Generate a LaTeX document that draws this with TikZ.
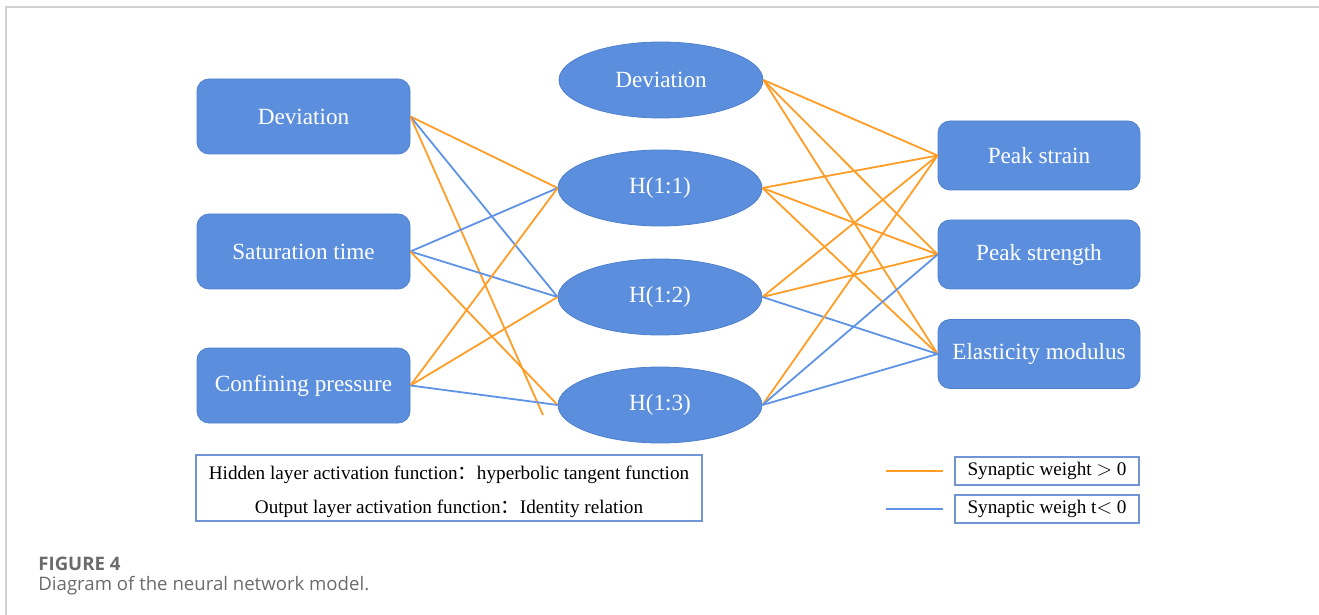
\documentclass[tikz,border=0pt]{standalone}
\usepackage{fontspec}
\setmainfont{Liberation Serif}
\newfontfamily\capfont{Open Sans}
\newfontfamily\cjk{Noto Sans CJK SC}
\usetikzlibrary{shapes.geometric}

\definecolor{boxblue}{HTML}{5B8FDE}
\definecolor{boxedge}{HTML}{4F80CC}
\definecolor{poswt}{HTML}{FF9D26}
\definecolor{negwt}{HTML}{5F93E6}
\definecolor{keyedge}{HTML}{7095D2}
\definecolor{capgray}{HTML}{6B6B6B}

\begin{document}
\begin{tikzpicture}[x=0.5pt, y=-0.5pt,
    unitbox/.style={draw=boxedge, fill=boxblue, rounded corners=6pt, text=white,
        minimum width=106.5pt, minimum height=37.5pt, inner sep=0pt, font=\fontsize{11.6}{13}\selectfont},
    outbox/.style={unitbox, minimum width=101pt, minimum height=34.5pt},
    hidden/.style={draw=boxedge, fill=boxblue, ellipse, text=white,
        minimum width=102pt, minimum height=38pt, inner sep=0pt, font=\fontsize{11.6}{13}\selectfont},
    poswire/.style={draw=poswt, line width=0.9pt},
    negwire/.style={draw=negwt, line width=0.9pt},
    keybox/.style={draw=keyedge, line width=0.6pt, inner sep=0pt, font=\fontsize{9.6}{11}\selectfont},
    notetext/.style={inner sep=0pt, font=\fontsize{9.6}{11}\selectfont}]

        \useasboundingbox (0,0) rectangle (1319,615);

        % page frame
        \draw[black!18, line width=1pt] (6,615) -- (6,7) -- (1319,7);

        % inputs
        \node[unitbox] (in1) at (303.5,116.5) {Deviation};
        \node[unitbox] (in2) at (303.5,251.5) {Saturation time};
        \node[unitbox] (in3) at (303.5,385.5) {Confining pressure};

        % hidden layer
        \node[hidden] (bias) at (661,80) {Deviation};
        \node[hidden] (h1) at (660,188) {H(1:1)};
        \node[hidden] (h2) at (660,297) {H(1:2)};
        \node[hidden] (h3) at (660,405) {H(1:3)};

        % outputs
        \node[outbox] (o1) at (1039,155.5) {Peak strain};
        \node[outbox] (o2) at (1039,254.5) {Peak strength};
        \node[outbox] (o3) at (1039,354) {Elasticity modulus};

        \coordinate (stray) at (543,415);

        % input -> hidden
        \draw[poswire] (in1.east) -- (h1.west);
        \draw[negwire] (in1.east) -- (h2.west);
        \draw[poswire] (in1.east) -- (stray);
        \draw[negwire] (in2.east) -- (h1.west);
        \draw[negwire] (in2.east) -- (h2.west);
        \draw[poswire] (in2.east) -- (h3.west);
        \draw[poswire] (in3.east) -- (h1.west);
        \draw[poswire] (in3.east) -- (h2.west);
        \draw[negwire] (in3.east) -- (h3.west);

        % hidden -> output
        \foreach \o in {o1,o2,o3} {
            \draw[poswire] (bias.east) -- (\o.west);
            \draw[poswire] (h1.east) -- (\o.west);
        }
        \draw[poswire] (h2.east) -- (o1.west);
        \draw[poswire] (h2.east) -- (o2.west);
        \draw[negwire] (h2.east) -- (o3.west);
        \draw[poswire] (h3.east) -- (o1.west);
        \draw[negwire] (h3.east) -- (o2.west);
        \draw[negwire] (h3.east) -- (o3.west);

        % activation note
        \node[keybox, minimum width=253pt, minimum height=33pt] (note) at (449,488) {};
        \node[notetext] (note1) at (449,475) {Hidden layer activation function{\cjk ：}hyperbolic tangent function};
        \node[notetext] (note2) at (449,509) {Output layer activation function{\cjk ：}Identity relation};

        % legend
        \node[keybox, minimum width=92pt, minimum height=14pt] (kpos) at (1047,471) {Synaptic weight $>$ 0};
        \node[keybox, minimum width=92pt, minimum height=14pt] (kneg) at (1047,509) {Synaptic weigh t$<$ 0};
        \coordinate (kp1) at (886,471);
        \coordinate (kp2) at (943,471);
        \coordinate (kn1) at (886,509);
        \coordinate (kn2) at (943,509);
        \draw[poswire] (kp1) -- (kp2);
        \draw[negwire] (kn1) -- (kn2);

        % caption
        \node[anchor=base west, inner sep=0pt, text=capgray, font=\capfont\bfseries\fontsize{9.3}{10}\selectfont] (fig) at (38,570) {FIGURE 4};
        \node[anchor=base west, inner sep=0pt, text=capgray, font=\capfont\fontsize{9.3}{10}\selectfont] (cap) at (38,590) {Diagram of the neural network model.};
    \end{tikzpicture}
\end{document}
